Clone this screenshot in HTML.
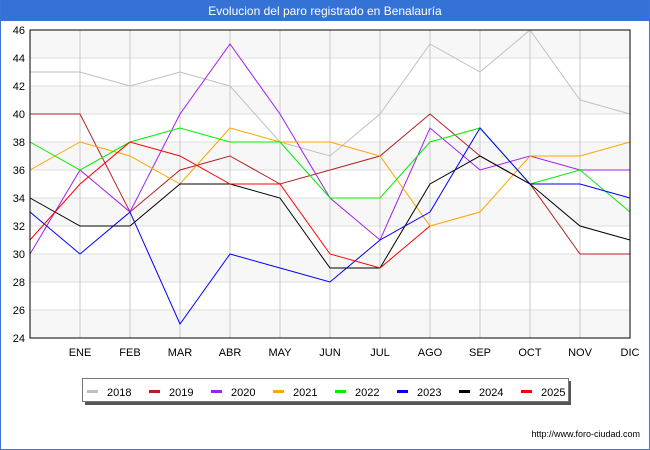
<!DOCTYPE html>
<html><head><meta charset="utf-8"><style>
body{margin:0;background:#fff;font-family:"Liberation Sans","DejaVu Sans",sans-serif}
#wrap{position:relative;width:648px;height:449px;border:1px solid #3a74d6;border-top:none;overflow:hidden}
</style></head><body>
<div id="wrap">
<svg id="chart" width="650" height="450" viewBox="0 0 650 450" style="position:absolute;left:-1px;top:0">
<rect x="0" y="0" width="650" height="21" fill="#3572d6"/>
<text x="325" y="15" text-anchor="middle" fill="#fff" font-size="12">Evolucion del paro registrado en Benalauría</text>
<g id="grid"></g><g id="series"></g><g id="axes"></g><g id="legend"></g>
<text x="640" y="437" text-anchor="end" font-size="9" fill="#000">http://www.foro-ciudad.com</text>
</svg>
</div>
<script>
const months=["","ENE","FEB","MAR","ABR","MAY","JUN","JUL","AGO","SEP","OCT","NOV","DIC"];
const yTicks=[24,26,28,30,32,34,36,38,40,42,44,46];
const years=["2018","2019","2020","2021","2022","2023","2024","2025"];
const colors=["#c0c0c0","#b22222","#a020f0","#ffa500","#00ee00","#0000ff","#000000","#ff0000"];
const s2018=[43,43,42,43,42,38,37,40,45,43,46,41,40];
const s2019=[40,40,33,36,37,35,36,37,40,37,35,30,30];
const s2020=[30,36,33,40,45,40,34,31,39,36,37,36,36];
const s2021=[36,38,37,35,39,38,38,37,32,33,37,37,38];
const s2022=[38,36,38,39,38,38,34,34,38,39,35,36,33];
const s2023=[33,30,33,25,30,29,28,31,33,39,35,35,34];
const s2024=[34,32,32,35,35,34,29,29,35,37,35,32,31];
const s2025=[31,35,38,37,35,35,30,29,32];
const allSeries=[s2018,s2019,s2020,s2021,s2022,s2023,s2024,s2025];
const NS="http://www.w3.org/2000/svg";
const L=30,R=630,T=30,B=338,yMin=24,yMax=46;
const xs=i=>L+i*(R-L)/(months.length-1);
const ys=v=>B-(v-yMin)*(B-T)/(yMax-yMin);
function mk(tag,attrs,parent){const e=document.createElementNS(NS,tag);for(const k in attrs)e.setAttribute(k,attrs[k]);parent.appendChild(e);return e;}
const grid=document.getElementById('grid'),axes=document.getElementById('axes'),ser=document.getElementById('series'),leg=document.getElementById('legend');
for(let i=0;i<yTicks.length-1;i++){
 if(i%2===0){const r=mk('rect',{x:L,y:ys(yTicks[i+1]),width:R-L,height:ys(yTicks[i])-ys(yTicks[i+1]),fill:'#f7f7f7'},grid);
 
 }
}
yTicks.forEach(v=>{
 const l=mk('line',{x1:L,x2:R,y1:ys(v),y2:ys(v),stroke:'#dddddd','stroke-width':1},grid);
 
 
 const t=mk('text',{x:L-5,y:ys(v)+4,'text-anchor':'end','font-size':11,fill:'#000'},axes);
 t.textContent=v;
 
 
});
months.forEach((m,i)=>{
 if(i===0)return;
 const l=mk('line',{x1:xs(i),x2:xs(i),y1:T,y2:B,stroke:'#c8c8c8','stroke-width':1},grid);
 
 
 const t=mk('text',{x:xs(i),y:B+18,'text-anchor':'middle','font-size':11,fill:'#000'},axes);
 t.textContent=m;
 
 
});
const frame=mk('rect',{x:L,y:T,width:R-L,height:B-T,fill:'none',stroke:'#000','stroke-width':1},axes);


allSeries.forEach((s,k)=>{
 const p=mk('polyline',{points:s.map((v,i)=>xs(i)+','+ys(v)).join(' '),fill:'none',stroke:colors[k],'stroke-width':1},ser);
 
 
});
const sh=mk('rect',{x:85,y:381,width:486,height:24,fill:'#555'},leg);


const box=mk('rect',{x:82.5,y:378.5,width:486,height:23,fill:'#fff',stroke:'#777'},leg);


years.forEach((y,k)=>{
 const x0=87+k*62;
 const g=mk('g',{},leg);
 
 
 mk('line',{x1:x0,x2:x0+11,y1:391.5,y2:391.5,stroke:colors[k],'stroke-width':3},g);
 const t=mk('text',{x:x0+20,y:396,'font-size':11,fill:'#000'},g);
 t.textContent=y;
});
</script>
</body></html>
